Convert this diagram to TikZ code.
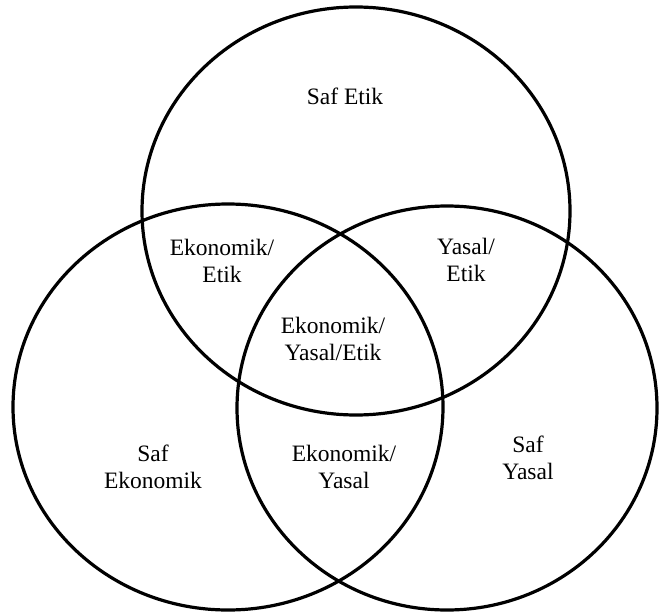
\documentclass[tikz,border=0pt]{standalone}
\usepackage{fontspec}
\setmainfont{Liberation Serif}
\begin{document}
\begin{tikzpicture}[x=1pt,y=-1pt,
  ring/.style={draw=black,line width=3.2pt},
  label/.style={align=center,font=\fontsize{23.5}{27.5}\selectfont,inner sep=0pt}]
\useasboundingbox (0,0) rectangle (660,615);
% centres of the three sets
\coordinate (etik) at (356,211);
\coordinate (eko)  at (228,407);
\coordinate (yas)  at (447,408);
% the three sets
\draw[ring] (etik) ellipse [x radius=214,y radius=204];
\draw[ring] (eko)  ellipse [x radius=215,y radius=203];
\draw[ring] (yas)  ellipse [x radius=210,y radius=202];
% region labels
\node[label] (safetik) at (345,96)  {Saf Etik};
\node[label] (ekoetik) at (222,261) {Ekonomik/\\Etik};
\node[label] (yasetik) at (466,260) {Yasal/\\Etik};
\node[label] (hepsi)   at (333,339) {Ekonomik/\\Yasal/Etik};
\node[label] (safeko)  at (153,467) {Saf\\Ekonomik};
\node[label] (ekoyas)  at (344,467) {Ekonomik/\\Yasal};
\node[label] (safyas)  at (528,458) {Saf\\Yasal};
\end{tikzpicture}
\end{document}
